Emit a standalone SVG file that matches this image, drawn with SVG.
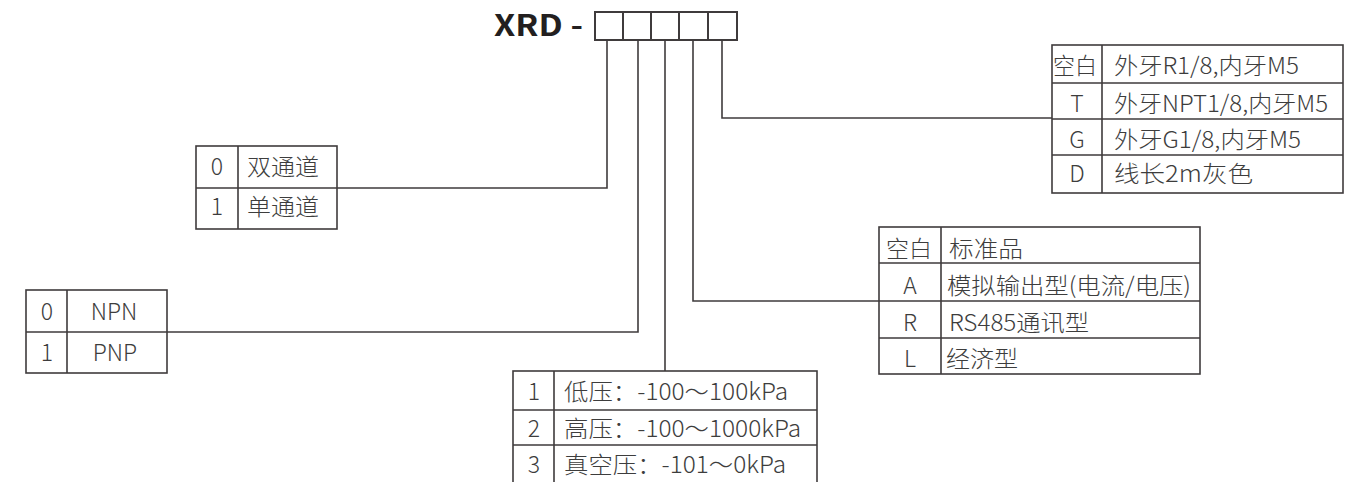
<svg xmlns="http://www.w3.org/2000/svg" width="1351" height="482" viewBox="0 0 1351 482">
<style>
.bx{fill:none;stroke:#3f3b3c;stroke-width:1.6}
.ln{fill:none;stroke:#3f3b3c;stroke-width:1.6}
.t{font-family:"Noto Sans CJK SC","Noto Sans",sans-serif;font-size:23px;fill:#3d3d3d;font-weight:300}
.c{text-anchor:middle}
.title{font-family:"Noto Sans CJK SC","Liberation Sans",sans-serif;font-size:29px;font-weight:700;fill:#231f20}
</style>
<rect width="1351" height="482" fill="#ffffff"/>
<g id="title">
<text class="title" x="494" y="36" textLength="89" lengthAdjust="spacingAndGlyphs">XRD -</text>
<rect class="bx" x="595" y="12" width="142" height="28" style="stroke-width:2"/>
<path class="bx" d="M623 12V40M651 12V40M679 12V40M708 12V40" style="stroke-width:2"/>
</g>
<g id="connectors">
<path class="ln" d="M607 40V188H337"/>
<path class="ln" d="M638 40V332H167"/>
<path class="ln" d="M665 40V371"/>
<path class="ln" d="M693 40V301H879"/>
<path class="ln" d="M722 40V118H1052"/>
</g>
<g id="channel">
<rect class="bx" x="196" y="146" width="141" height="83"/>
<path class="bx" d="M196 188H337M238 146V229"/>
<text class="t c" x="217" y="175">0</text>
<text class="t" x="247" y="175" textLength="72" lengthAdjust="spacingAndGlyphs">双通道</text>
<text class="t c" x="217" y="215">1</text>
<text class="t" x="247" y="215" textLength="72" lengthAdjust="spacingAndGlyphs">单通道</text>
</g>
<g id="output">
<rect class="bx" x="26" y="290" width="141" height="83"/>
<path class="bx" d="M26 332H167M67 290V373"/>
<text class="t c" x="47" y="320">0</text>
<text class="t c" x="114" y="320">NPN</text>
<text class="t c" x="47" y="361">1</text>
<text class="t c" x="115" y="361">PNP</text>
</g>
<g id="pressure">
<rect class="bx" x="513" y="371" width="304" height="120"/>
<path class="bx" d="M513 410H817M513 445H817M554 371V491"/>
<text class="t c" x="534" y="400">1</text>
<text class="t" x="564" y="400" textLength="224" lengthAdjust="spacingAndGlyphs">低压：-100～100kPa</text>
<text class="t c" x="534" y="437">2</text>
<text class="t" x="564" y="437" textLength="237" lengthAdjust="spacingAndGlyphs">高压：-100～1000kPa</text>
<text class="t c" x="534" y="473">3</text>
<text class="t" x="564" y="473" textLength="222" lengthAdjust="spacingAndGlyphs">真空压：-101～0kPa</text>
</g>
<g id="signal">
<rect class="bx" x="879" y="227" width="321" height="147"/>
<path class="bx" d="M879 263H1200M879 301H1200M879 338H1200M941 227V374"/>
<text class="t c" x="909" y="257">空白</text>
<text class="t" x="949" y="257" textLength="74" lengthAdjust="spacingAndGlyphs">标准品</text>
<text class="t c" x="910" y="294">A</text>
<text class="t" x="947" y="294" textLength="244" lengthAdjust="spacingAndGlyphs">模拟输出型(电流/电压)</text>
<text class="t c" x="910" y="331">R</text>
<text class="t" x="949" y="331" textLength="140" lengthAdjust="spacingAndGlyphs">RS485通讯型</text>
<text class="t c" x="910" y="367">L</text>
<text class="t" x="946" y="367" textLength="72" lengthAdjust="spacingAndGlyphs">经济型</text>
</g>
<g id="thread">
<rect class="bx" x="1052" y="45" width="291" height="148"/>
<path class="bx" d="M1052 83H1343M1052 119H1343M1052 155H1343M1102 45V193"/>
<text class="t c" x="1075" y="74" textLength="44" lengthAdjust="spacingAndGlyphs">空白</text>
<text class="t" x="1114" y="74" textLength="185" lengthAdjust="spacingAndGlyphs">外牙R1/8,内牙M5</text>
<text class="t c" x="1077" y="112">T</text>
<text class="t" x="1114" y="112" textLength="214" lengthAdjust="spacingAndGlyphs">外牙NPT1/8,内牙M5</text>
<text class="t c" x="1077" y="148">G</text>
<text class="t" x="1114" y="148" textLength="187" lengthAdjust="spacingAndGlyphs">外牙G1/8,内牙M5</text>
<text class="t c" x="1077" y="182">D</text>
<text class="t" x="1114" y="182" textLength="139" lengthAdjust="spacingAndGlyphs">线长2m灰色</text>
</g>
</svg>
